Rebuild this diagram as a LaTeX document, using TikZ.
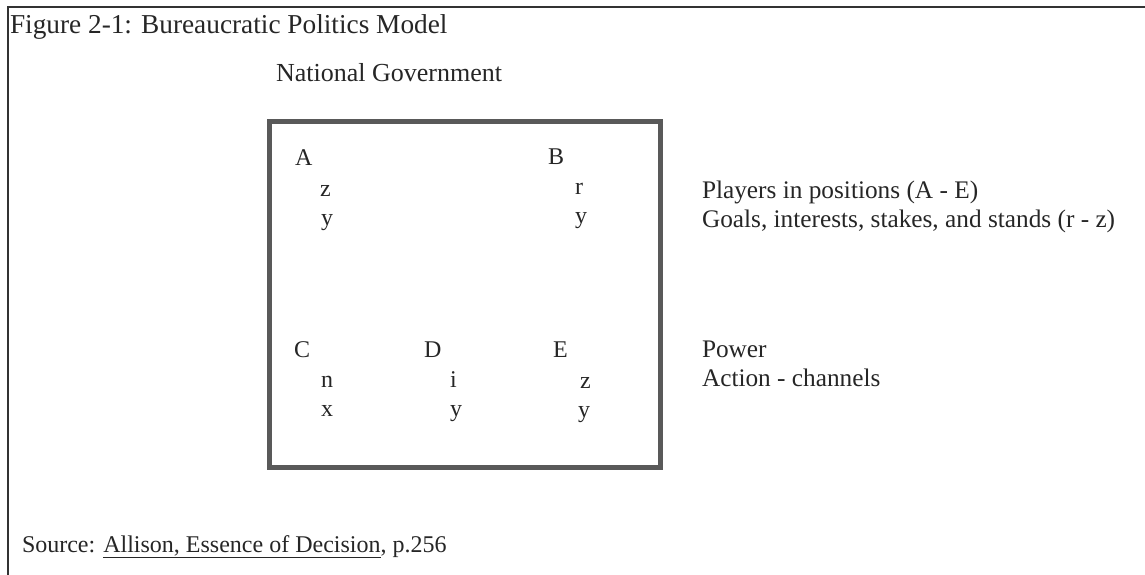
\documentclass[tikz,border=0pt]{standalone}
\usepackage{fontspec}
\setmainfont{Liberation Serif}
\usepackage{xcolor}

\begin{document}
\begin{tikzpicture}[x=1pt,y=-1pt]
\tikzset{every node/.style={inner sep=0pt,outer sep=0pt,anchor=base west,text=black!85}}
\tikzset{title text/.style={font=\fontsize{27.3}{30}\selectfont}}
\tikzset{head text/.style={font=\fontsize{26}{30}\selectfont}}
\tikzset{player/.style={font=\fontsize{24}{28}\selectfont}}
\tikzset{side text/.style={font=\fontsize{25.3}{29}\selectfont}}
\tikzset{frame line/.style={line width=1.5pt,draw=black!80}}
\tikzset{govt box/.style={line width=5pt,draw=black!65}}

\useasboundingbox (0,0) rectangle (1145,575);

% outer frame
\draw[frame line] (8,575) -- (8,7) -- (1145,7);

\node[title text] (title) at (10,34) {Figure 2-1: Bureaucratic Politics Model};
\node[head text] (govt) at (276,82) {National Government};

% the government box
\draw[govt box] (269,122) rectangle (660,467);

\node[player] (A) at (295,165) {A};
\node[player] (Az) at (320,196) {z};
\node[player] (Ay) at (321,225) {y};

\node[player] (B) at (548,164) {B};
\node[player] (Br) at (575,194) {r};
\node[player] (By) at (575,223) {y};

\node[player] (C) at (294,357) {C};
\node[player] (Cn) at (321,387) {n};
\node[player] (Cx) at (321,416) {x};

\node[player] (D) at (424,357) {D};
\node[player] (Di) at (450,387) {i};
\node[player] (Dy) at (450,416) {y};

\node[player] (E) at (553,357) {E};
\node[player] (Ez) at (580,388) {z};
\node[player] (Ey) at (578,417) {y};

% legend
\node[side text] (players) at (702,198) {Players in positions (A - E)};
\node[side text] (goals) at (702,227) {Goals, interests, stakes, and stands (r - z)};
\node[side text] (power) at (702,357) {Power};
\node[side text] (action) at (702,386) {Action - channels};

\node[player] (source) at (22,552) {Source: \underline{Allison, Essence of Decision}, p.256};

\end{tikzpicture}
\end{document}
